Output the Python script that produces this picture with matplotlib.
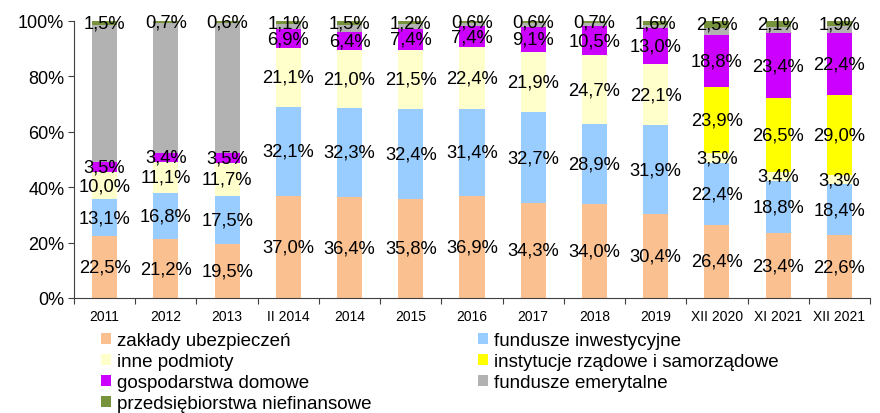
import numpy as np
import matplotlib
matplotlib.use("Agg")
import matplotlib.pyplot as plt
from matplotlib.patches import Patch

plt.rcParams['font.family'] = ['Liberation Sans', 'DejaVu Sans']

categories = ['2011', '2012', '2013', 'II 2014', '2014', '2015', '2016',
              '2017', '2018', '2019', 'XII 2020', 'XI 2021', 'XII 2021']

# values, in %, bottom to top
zaklady = [22.5, 21.2, 19.5, 37.0, 36.4, 35.8, 36.9, 34.3, 34.0, 30.4, 26.4, 23.4, 22.6]
fundusze_inw = [13.1, 16.8, 17.5, 32.1, 32.3, 32.4, 31.4, 32.7, 28.9, 31.9, 22.4, 18.8, 18.4]
inne = [10.0, 11.1, 11.7, 21.1, 21.0, 21.5, 22.4, 21.9, 24.7, 22.1, 3.5, 3.4, 3.3]
instytucje = [0, 0, 0, 0, 0, 0, 0, 0, 0, 0, 23.9, 26.5, 29.0]
gospodarstwa = [3.5, 3.4, 3.5, 6.9, 6.4, 7.4, 7.4, 9.1, 10.5, 13.0, 18.8, 23.4, 22.4]
fundusze_emer = [49.4, 46.8, 47.2, 1.8, 2.4, 1.7, 1.3, 1.4, 1.2, 1.0, 2.5, 2.4, 2.4]
przedsiebiorstwa = [1.5, 0.7, 0.6, 1.1, 1.5, 1.2, 0.6, 0.6, 0.7, 1.6, 2.5, 2.1, 1.9]

series = [
    ('zakłady ubezpieczeń', zaklady, '#FAC090', True),
    ('fundusze inwestycyjne', fundusze_inw, '#99CCFF', True),
    ('inne podmioty', inne, '#FFFFCC', True),
    ('instytucje rządowe i samorządowe', instytucje, '#FFFF00', True),
    ('gospodarstwa domowe', gospodarstwa, '#CC00FF', True),
    ('fundusze emerytalne', fundusze_emer, '#B2B2B2', False),
    ('przedsiębiorstwa niefinansowe', przedsiebiorstwa, '#77933C', True),
]

fig = plt.figure(figsize=(8.8, 4.14), dpi=100)
ax = fig.add_axes([74 / 880, 1 - 299 / 414, 796 / 880, 277 / 414])

x = np.arange(len(categories))
bottom = np.zeros(len(categories))
handles = {}
for name, vals, color, show in series:
    vals = np.array(vals, dtype=float)
    ax.bar(x, vals, 0.41, bottom=bottom, color=color, linewidth=0)
    handles[name] = Patch(facecolor=color, edgecolor='none')
    if show:
        for xi, b, v in zip(x, bottom, vals):
            if v > 0:
                ax.text(xi, b + v / 2, f"{v:.1f}%".replace('.', ','),
                        ha='center', va='center', fontsize=13.2, color='black')
    bottom += vals

ax.set_xlim(-0.5, len(categories) - 0.5)
ax.set_ylim(0, 100)
ax.set_yticks(range(0, 101, 20))
ax.set_yticklabels([f"{t}%" for t in range(0, 101, 20)], fontsize=13)
ax.tick_params(axis='y', length=4, width=0.8, color='#404040', pad=3)

# category labels centred, tick marks between categories
ax.set_xticks(x)
ax.set_xticklabels(categories, fontsize=10)
ax.tick_params(axis='x', which='major', length=0, pad=8)
ax.set_xticks(np.arange(-0.5, len(categories)), minor=True)
ax.tick_params(axis='x', which='minor', length=4, width=0.8, color='#404040')

for s in ['top', 'right']:
    ax.spines[s].set_visible(False)
for s in ['left', 'bottom']:
    ax.spines[s].set_color('#404040')
    ax.spines[s].set_linewidth(0.8)

col1 = ['zakłady ubezpieczeń', 'inne podmioty', 'gospodarstwa domowe',
        'przedsiębiorstwa niefinansowe']
col2 = ['fundusze inwestycyjne', 'instytucje rządowe i samorządowe',
        'fundusze emerytalne']
leg_kw = dict(loc='upper left', frameon=False, fontsize=13.5, handlelength=0.55,
              handleheight=0.55, handletextpad=0.3, labelspacing=0.22,
              borderpad=0, borderaxespad=0)
fig.legend([handles[n] for n in col1], col1,
           bbox_to_anchor=(101 / 880, 1 - 333 / 414), **leg_kw)
fig.legend([handles[n] for n in col2], col2,
           bbox_to_anchor=(478 / 880, 1 - 333 / 414), **leg_kw)

fig.savefig('out.png', dpi=100)
